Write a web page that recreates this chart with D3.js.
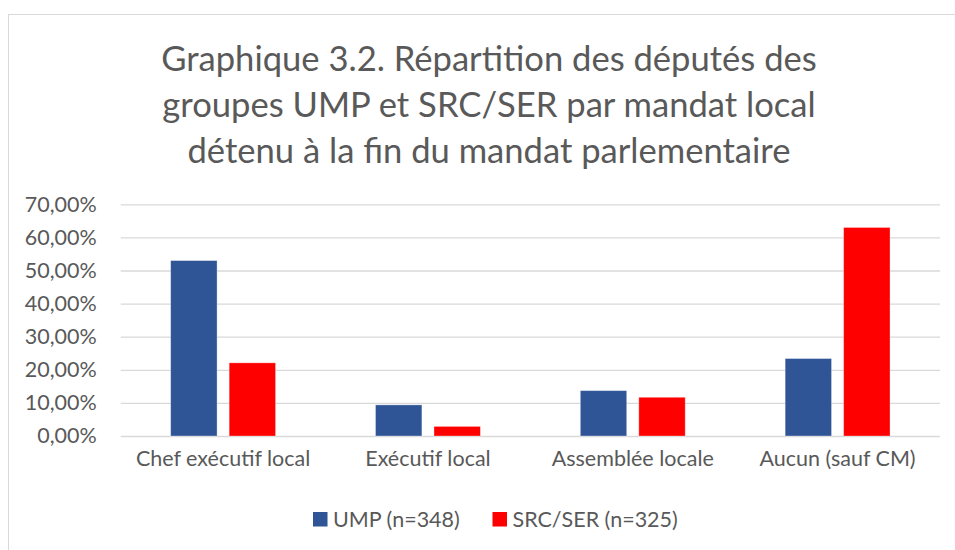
<!DOCTYPE html>
<html>
<head>
<meta charset="utf-8">
<script src="https://cdn.jsdelivr.net/npm/d3@7"></script>
<style>
  body { margin: 0; background: #fff; }
  svg text { font-family: Lato, "Liberation Sans", sans-serif; fill: #595959; }
</style>
</head>
<body>
<svg width="955" height="550"></svg>
<script>
const categories = ["Chef exécutif local", "Exécutif local", "Assemblée locale", "Aucun (sauf CM)"];
const seriesNames = ["UMP (n=348)", "SRC/SER (n=325)"];
const ump = [0.530, 0.094, 0.137, 0.234];
const src = [0.221, 0.029, 0.117, 0.630];
const colors = ["#2F5597", "#FF0000"];
const yTicks = [0, 0.1, 0.2, 0.3, 0.4, 0.5, 0.6, 0.7];
const titleLines = [
  "Graphique 3.2. Répartition des députés des",
  "groupes UMP et SRC/SER par mandat local",
  "détenu à la fin du mandat parlementaire"
];

const svg = d3.select("svg");

// chart area frame
svg.append("rect")
  .attr("x", 8.5).attr("y", 14.5)
  .attr("width", 1000).attr("height", 600)
  .attr("fill", "none")
  .attr("stroke", "#d9d9d9");

// title
svg.append("text")
  .attr("text-anchor", "middle")
  .attr("font-size", "34.6px")
  .selectAll("tspan").data(titleLines)
  .enter().append("tspan")
  .attr("x", 489)
  .attr("y", (d, i) => 71 + i * 46)
  .text(d => d);

const plot = {left: 120.7, right: 940, top: 204.3, bottom: 436};

const x0 = d3.scaleBand()
  .domain(categories)
  .range([plot.left, plot.right])
  .padding(0);

const bw = x0.bandwidth();
const x1 = d3.scaleBand()
  .domain([0, 1])
  .range([bw * 0.244, bw * 0.756])
  .paddingInner(0.207);

const y = d3.scaleLinear()
  .domain([0, 0.7])
  .range([plot.bottom, plot.top]);

// gridlines + y labels
const yAxis = svg.append("g")
  .attr("transform", `translate(${plot.left},0)`)
  .call(d3.axisLeft(y)
    .tickValues(yTicks)
    .tickSize(-(plot.right - plot.left))
    .tickPadding(24)
    .tickFormat(d => (d * 100).toFixed(2).replace(".", ",") + "%"));
yAxis.select(".domain").remove();
yAxis.selectAll("line").attr("stroke", "#d9d9d9").attr("stroke-width", 1.3);
yAxis.selectAll("text")
  .attr("font-size", "21.5px")
  .attr("fill", "#595959")
  .style("font-family", "Lato, sans-serif");

// bars
const rows = categories.map((c, i) => ({cat: c, vals: [ump[i], src[i]]}));
const groups = svg.append("g").selectAll("g").data(rows)
  .enter().append("g")
  .attr("transform", d => `translate(${x0(d.cat)},0)`);

groups.selectAll("rect")
  .data(d => d.vals.map((v, k) => ({k, v})))
  .enter().append("rect")
  .attr("x", d => x1(d.k))
  .attr("width", x1.bandwidth())
  .attr("y", d => y(d.v))
  .attr("height", d => y(0) - y(d.v))
  .attr("fill", d => colors[d.k])
  .attr("stroke", "#ffffff")
  .attr("stroke-opacity", 0.4)
  .attr("stroke-width", 0.8);

// x labels
const xAxis = svg.append("g")
  .attr("transform", `translate(0,${plot.bottom})`)
  .call(d3.axisBottom(x0).tickSize(0).tickPadding(15));
xAxis.select(".domain").remove();
xAxis.selectAll("text")
  .attr("font-size", "21.5px")
  .attr("fill", "#595959")
  .style("font-family", "Lato, sans-serif");

// legend
const legendItems = [
  {name: seriesNames[0], color: colors[0], x: 313},
  {name: seriesNames[1], color: colors[1], x: 492.5}
];
const legend = svg.append("g");
legendItems.forEach(d => {
  legend.append("rect")
    .attr("x", d.x).attr("y", 512)
    .attr("width", 14.5).attr("height", 14.5)
    .attr("fill", d.color);
  legend.append("text")
    .attr("x", d.x + 20).attr("y", 527)
    .attr("font-size", "21.5px")
    .text(d.name);
});
</script>
</body>
</html>
